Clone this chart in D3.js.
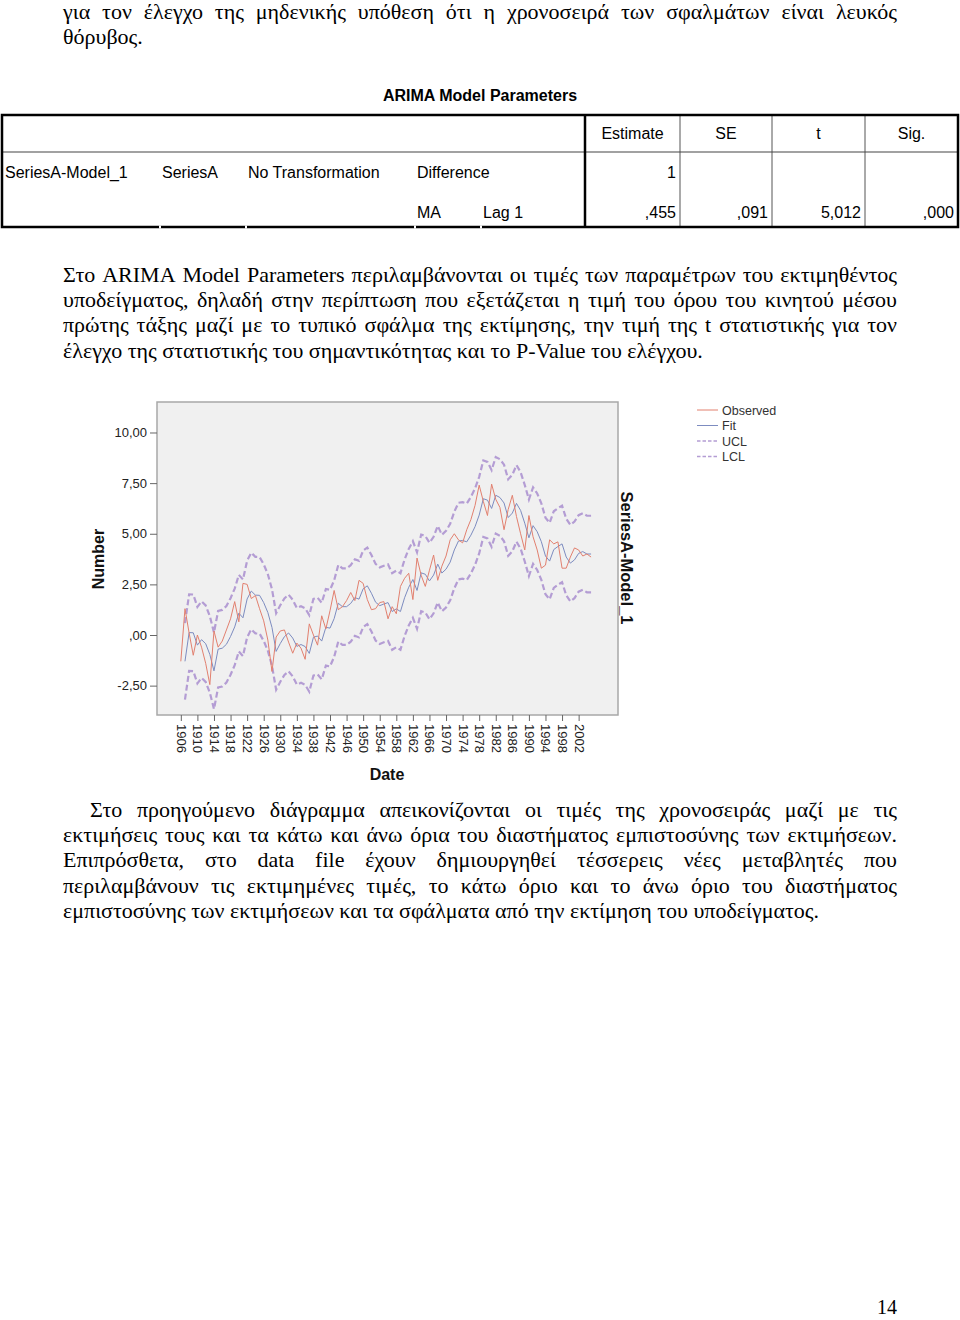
<!DOCTYPE html>
<html><head><meta charset="utf-8">
<script src="https://cdn.jsdelivr.net/npm/d3@7"></script>
<style>body{margin:0;background:#fff} svg{display:block}</style>
</head><body>
<script>
// ---------- DATA ----------
const startYear = 1906;
const observed = [
 -1.3, 1.3, 0.1, -1.0, 0.0, -0.6, -1.4, -2.45, 0.2, -0.6,
 -0.3, 0.25, 0.8, 1.65, 0.65, 2.55, 2.5, 1.8, 1.95, 1.3,
 0.7, -0.25, -1.8, -0.1, 0.2, 0.25, -0.35, -0.9, -0.4, -0.65,
 -1.2, 0.55, 0.0, -0.5, 0.95, 0.3, 1.2, 2.2, 1.25, 1.4,
 1.7, 2.1, 1.7, 2.7, 2.55, 1.75, 1.25, 1.3, 1.6, 1.65,
 0.8, 1.4, 1.05, 2.4, 2.8, 3.05, 1.75, 3.8, 2.95, 2.4,
 3.2, 3.95, 2.7, 3.4, 3.9, 4.7, 5.0, 4.7, 4.55, 5.2,
 5.7, 6.4, 7.4, 6.6, 5.9, 7.45, 6.7, 6.3, 5.2, 6.2,
 6.9, 5.85, 5.0, 4.2, 5.9, 4.85, 4.2, 3.3, 3.45, 4.7,
 4.5, 4.6, 3.3, 3.3, 3.85, 4.3, 4.2, 3.9, 4.0, 3.85
];
const fitStartYear = 1907;
const fit = [
 -1.30, 0.12, 0.11, -0.50, -0.23, -0.43, -0.96, -1.77, -0.70, -0.65,
 -0.46, -0.07, 0.40, 1.08, 0.85, 1.78, 2.17, 1.97, 1.96, 1.60,
 1.11, 0.37, -0.81, -0.42, -0.08, 0.10, -0.15, -0.56, -0.47, -0.57,
 -0.91, -0.11, -0.05, -0.30, 0.38, 0.34, 0.81, 1.57, 1.40, 1.40,
 1.56, 1.85, 1.77, 2.28, 2.43, 2.06, 1.62, 1.45, 1.53, 1.60,
 1.16, 1.29, 1.16, 1.84, 2.36, 2.74, 2.20, 3.07, 3.00, 2.67,
 2.96, 3.50, 3.06, 3.25, 3.60, 4.20, 4.64, 4.67, 4.60, 4.93,
 5.35, 5.92, 6.73, 6.66, 6.25, 6.90, 6.79, 6.52, 5.80, 6.02,
 6.50, 6.15, 5.52, 4.80, 5.40, 5.10, 4.61, 3.90, 3.65, 4.22,
 4.37, 4.50, 3.85, 3.55, 3.71, 4.03, 4.12, 4.00, 4.00
];
const ucl = [
 0.59, 2.01, 2.00, 1.39, 1.66, 1.46, 0.93, 0.12, 1.19, 1.24,
 1.43, 1.82, 2.29, 2.97, 2.74, 3.67, 4.06, 3.86, 3.85, 3.49,
 3.00, 2.26, 1.08, 1.47, 1.81, 1.99, 1.74, 1.33, 1.42, 1.32,
 0.98, 1.78, 1.84, 1.59, 2.27, 2.23, 2.70, 3.46, 3.29, 3.29,
 3.45, 3.74, 3.66, 4.17, 4.32, 3.95, 3.51, 3.34, 3.42, 3.49,
 3.05, 3.18, 3.05, 3.73, 4.25, 4.63, 4.09, 4.96, 4.89, 4.56,
 4.85, 5.39, 4.95, 5.14, 5.49, 6.09, 6.53, 6.56, 6.49, 6.82,
 7.24, 7.81, 8.62, 8.55, 8.14, 8.79, 8.68, 8.41, 7.69, 7.91,
 8.39, 8.04, 7.41, 6.69, 7.29, 6.99, 6.50, 5.79, 5.54, 6.11,
 6.26, 6.39, 5.74, 5.44, 5.60, 5.92, 6.01, 5.89, 5.89
];
const lcl = [
 -3.19, -1.77, -1.78, -2.39, -2.12, -2.32, -2.85, -3.66, -2.59, -2.54,
 -2.35, -1.96, -1.49, -0.81, -1.04, -0.11, 0.28, 0.08, 0.07, -0.29,
 -0.78, -1.52, -2.70, -2.31, -1.97, -1.79, -2.04, -2.45, -2.36, -2.46,
 -2.80, -2.00, -1.94, -2.19, -1.51, -1.55, -1.08, -0.32, -0.49, -0.49,
 -0.33, -0.04, -0.12, 0.39, 0.54, 0.17, -0.27, -0.44, -0.36, -0.29,
 -0.73, -0.60, -0.73, -0.05, 0.47, 0.85, 0.31, 1.18, 1.11, 0.78,
 1.07, 1.61, 1.17, 1.36, 1.71, 2.31, 2.75, 2.78, 2.71, 3.04,
 3.46, 4.03, 4.84, 4.77, 4.36, 5.01, 4.90, 4.63, 3.91, 4.13,
 4.61, 4.26, 3.63, 2.91, 3.51, 3.21, 2.72, 2.01, 1.76, 2.33,
 2.48, 2.61, 1.96, 1.66, 1.82, 2.14, 2.23, 2.11, 2.11
];
const xTickYears = [1906,1910,1914,1918,1922,1926,1930,1934,1938,1942,1946,1950,1954,1958,1962,1966,1970,1974,1978,1982,1986,1990,1994,1998,2002];
const yTicks = [-2.5, 0, 2.5, 5, 7.5, 10];
const yTickLabels = ["-2,50", ",00", "2,50", "5,00", "7,50", "10,00"];
const legendLabels = ["Observed", "Fit", "UCL", "LCL"];

const tableTitle = "ARIMA Model Parameters";
const tableHeaders = ["Estimate", "SE", "t", "Sig."];
const tableRow1 = ["SeriesA-Model_1", "SeriesA", "No Transformation", "Difference", "1"];
const tableRow2 = ["MA", "Lag 1", ",455", ",091", "5,012", ",000"];

const para1 = [
 "για τον έλεγχο της μηδενικής υπόθεση ότι η χρονοσειρά των σφαλμάτων είναι λευκός",
 "θόρυβος."
];
const para2 = [
 "Στο ARIMA Model Parameters περιλαμβάνονται οι τιμές των παραμέτρων του εκτιμηθέντος",
 "υποδείγματος, δηλαδή στην περίπτωση που εξετάζεται η τιμή του όρου του κινητού μέσου",
 "πρώτης τάξης μαζί με το τυπικό σφάλμα της εκτίμησης, την τιμή της t στατιστικής για τον",
 "έλεγχο της στατιστικής του σημαντικότητας και το P-Value του ελέγχου."
];
const para3 = [
 "Στο προηγούμενο διάγραμμα απεικονίζονται οι τιμές της χρονοσειράς μαζί με τις",
 "εκτιμήσεις τους και τα κάτω και άνω όρια του διαστήματος εμπιστοσύνης των εκτιμήσεων.",
 "Επιπρόσθετα, στο data file έχουν δημιουργηθεί τέσσερεις νέες μεταβλητές που",
 "περιλαμβάνουν τις εκτιμημένες τιμές, το κάτω όριο και το άνω όριο του διαστήματος",
 "εμπιστοσύνης των εκτιμήσεων και τα σφάλματα από την εκτίμηση του υποδείγματος."
];
const pageNumber = "14";

// ---------- PAGE ----------
const W = 960, H = 1320;
const svg = d3.select("body").append("svg").attr("width", W).attr("height", H);
const serif = "'Liberation Serif','Times New Roman',serif";
const sans = "'Liberation Sans',Arial,sans-serif";
const fs = 22;

function textLine(str, x0, x1, y, justify) {
  if (!justify) {
    svg.append("text").attr("x", x0).attr("y", y).attr("font-family", serif)
      .attr("font-size", fs).attr("fill", "#000").text(str);
    return;
  }
  const words = str.split(" ");
  const nodes = words.map(w => svg.append("text").attr("y", y).attr("font-family", serif)
      .attr("font-size", fs).attr("fill", "#000").text(w));
  const widths = nodes.map(n => n.node().getComputedTextLength());
  const gap = (x1 - x0 - d3.sum(widths)) / (words.length - 1);
  let x = x0;
  nodes.forEach((n, i) => { n.attr("x", x); x += widths[i] + gap; });
}
const L = 63, R = 897, LH = 25.2;
textLine(para1[0], L, R, 19, true);
textLine(para1[1], L, R, 19 + LH, false);
para2.forEach((s, i) => textLine(s, L, R, 282 + i * LH, i < 3));
para3.forEach((s, i) => textLine(s, i === 0 ? 90 : L, R, 817 + i * LH, i < 4));
svg.append("text").attr("x", 897).attr("y", 1314).attr("text-anchor", "end")
  .attr("font-family", serif).attr("font-size", 20).text(pageNumber);

// ---------- TABLE ----------
const tb = svg.append("g").attr("font-family", sans).attr("font-size", 16).attr("fill", "#000");
tb.append("text").attr("x", 480).attr("y", 101).attr("text-anchor", "middle")
  .attr("font-weight", "bold").text(tableTitle);
const tx0 = 2, tx1 = 958, ty0 = 115, ty1 = 227, tyh = 152;
const colEdges = [585, 680, 772, 865, 958];
[680, 772, 865].forEach(cx => tb.append("line").attr("x1", cx).attr("x2", cx).attr("y1", ty0).attr("y2", ty1)
  .attr("stroke", "#555").attr("stroke-width", 1));
tb.append("line").attr("x1", tx0).attr("x2", tx1).attr("y1", tyh).attr("y2", tyh)
  .attr("stroke", "#444").attr("stroke-width", 1.2);
tb.append("line").attr("x1", 585).attr("x2", 585).attr("y1", ty0).attr("y2", ty1)
  .attr("stroke", "#000").attr("stroke-width", 2.5);
tb.append("rect").attr("x", tx0).attr("y", ty0).attr("width", tx1 - tx0).attr("height", ty1 - ty0)
  .attr("fill", "none").attr("stroke", "#000").attr("stroke-width", 2.5);
[160, 246, 415, 481].forEach(gx => tb.append("rect").attr("x", gx - 1).attr("y", ty1 - 1.5)
  .attr("width", 2).attr("height", 3).attr("fill", "#fff"));
tableHeaders.forEach((h, i) => tb.append("text")
  .attr("x", (colEdges[i] + colEdges[i + 1]) / 2).attr("y", 139).attr("text-anchor", "middle").text(h));
[5, 162, 248, 417].forEach((lx, i) => tb.append("text").attr("x", lx).attr("y", 178).text(tableRow1[i]));
tb.append("text").attr("x", colEdges[1] - 4).attr("y", 178).attr("text-anchor", "end").text(tableRow1[4]);
tb.append("text").attr("x", 417).attr("y", 218).text(tableRow2[0]);
tb.append("text").attr("x", 483).attr("y", 218).text(tableRow2[1]);
tableRow2.slice(2).forEach((v, i) => tb.append("text").attr("x", colEdges[i + 1] - 4).attr("y", 218)
  .attr("text-anchor", "end").text(v));

// ---------- CHART ----------
const fx = 157, fy = 402, fw = 461, fh = 313;
const x = d3.scaleLinear().domain([1900.25, 2011.5]).range([fx, fx + fw]);
const y = d3.scaleLinear().domain([-3.95, 11.506]).range([fy + fh, fy]);
const ch = svg.append("g");
ch.append("rect").attr("x", fx).attr("y", fy).attr("width", fw).attr("height", fh)
  .attr("fill", "#f0f0f0").attr("stroke", "#a8a8a8").attr("stroke-width", 1.5);

const yAxis = ch.append("g").attr("transform", `translate(${fx},0)`)
  .call(d3.axisLeft(y).tickValues(yTicks).tickFormat((d, i) => yTickLabels[i]).tickSize(7).tickPadding(3));
yAxis.select(".domain").remove();
yAxis.selectAll("line").attr("stroke", "#666");
yAxis.selectAll("text").attr("font-family", sans).attr("font-size", 13).attr("fill", "#222");

const xAxis = ch.append("g").attr("transform", `translate(0,${fy + fh})`)
  .call(d3.axisBottom(x).tickValues(xTickYears).tickFormat(d => String(d)).tickSize(6));
xAxis.select(".domain").remove();
xAxis.selectAll("line").attr("stroke", "#666");
xAxis.selectAll("text").attr("font-family", sans).attr("font-size", 13).attr("fill", "#222")
  .attr("transform", "rotate(90)").attr("text-anchor", "start")
  .attr("x", 9).attr("y", 0).attr("dy", "0.35em");

const colObs = "#e2806f", colFit = "#7d8cc0", colCL = "#b49dd4";
const lineObs = d3.line().x((d, i) => x(startYear + i)).y(d => y(d));
const lineFit = d3.line().x((d, i) => x(fitStartYear + i)).y(d => y(d));
ch.append("path").attr("d", lineFit(ucl)).attr("fill", "none").attr("stroke", colCL)
  .attr("stroke-width", 2.2).attr("stroke-dasharray", "6,3");
ch.append("path").attr("d", lineFit(lcl)).attr("fill", "none").attr("stroke", colCL)
  .attr("stroke-width", 2.2).attr("stroke-dasharray", "6,3");
ch.append("path").attr("d", lineFit(fit)).attr("fill", "none").attr("stroke", colFit).attr("stroke-width", 1);
ch.append("path").attr("d", lineObs(observed)).attr("fill", "none").attr("stroke", colObs).attr("stroke-width", 1);

ch.append("text").attr("transform", "translate(104,559) rotate(-90)").attr("text-anchor", "middle")
  .attr("font-family", sans).attr("font-weight", "bold").attr("font-size", 16).attr("fill", "#111").text("Number");
ch.append("text").attr("x", 387).attr("y", 780).attr("text-anchor", "middle")
  .attr("font-family", sans).attr("font-weight", "bold").attr("font-size", 16).attr("fill", "#111").text("Date");
ch.append("text").attr("transform", "translate(621,558) rotate(90)").attr("text-anchor", "middle")
  .attr("font-family", sans).attr("font-weight", "bold").attr("font-size", 16.5).attr("fill", "#111").text("SeriesA-Model_1");

const legColors = [colObs, colFit, colCL, colCL];
const legDash = [null, null, "3.5,2", "3.5,2"];
legendLabels.forEach((lab, i) => {
  const ly = 410 + i * 15.5;
  ch.append("line").attr("x1", 697).attr("x2", 718).attr("y1", ly).attr("y2", ly)
    .attr("stroke", legColors[i]).attr("stroke-width", i < 2 ? 1 : 1.5).attr("stroke-dasharray", legDash[i]);
  ch.append("text").attr("x", 722).attr("y", ly + 4.5).attr("font-family", sans).attr("font-size", 12.5)
    .attr("fill", "#333").text(lab);
});
</script>
</body></html>
